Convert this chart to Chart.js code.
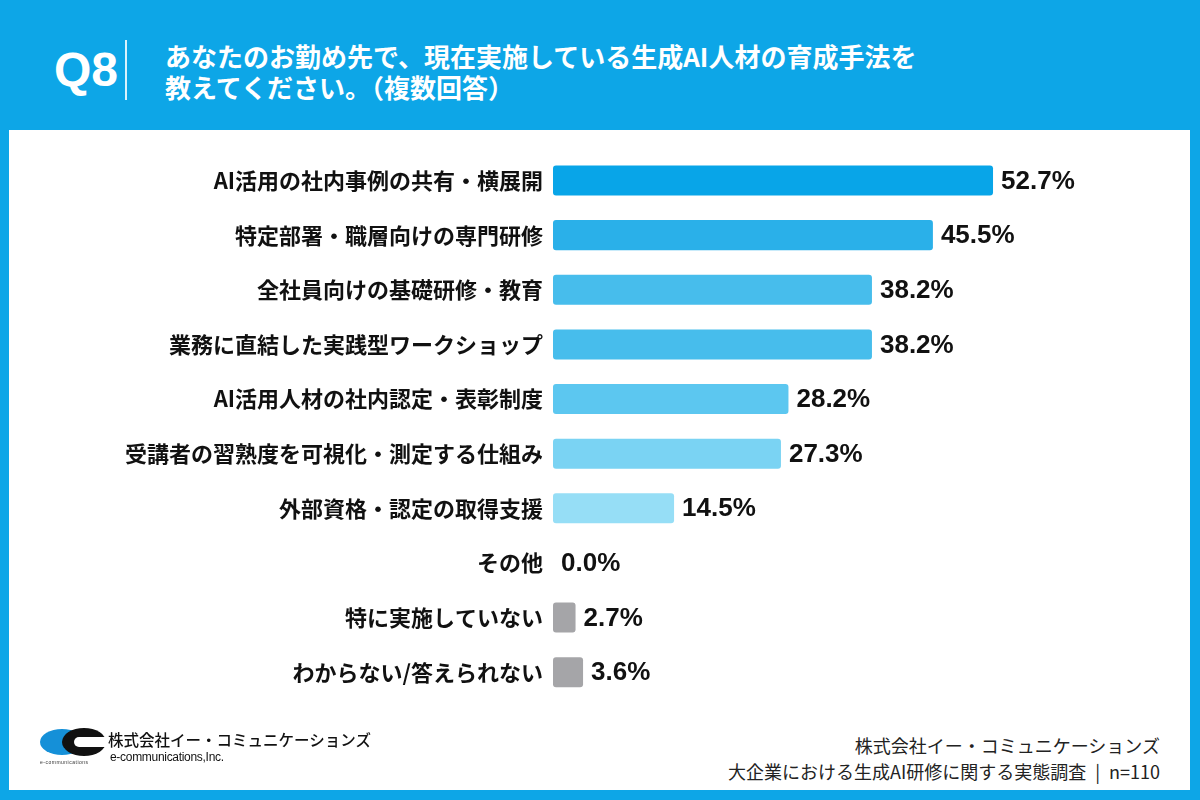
<!DOCTYPE html>
<html lang="ja">
<head>
<meta charset="utf-8">
<script src="https://cdn.jsdelivr.net/npm/chart.js@4"></script>
<style>
  html, body { margin: 0; padding: 0; }
  body {
    width: 1200px; height: 800px; position: relative; overflow: hidden;
    background: #0da6e7;
    font-family: "Noto Sans CJK JP", "Noto Sans", sans-serif;
  }
  .panel {
    position: absolute; left: 9px; top: 130px; width: 1181px; height: 660px;
    background: #ffffff;
  }
  .q {
    position: absolute; left: 54px; top: 42px;
    font-family: "Liberation Sans", Arial, sans-serif; font-weight: 700;
    font-size: 48px; color: #fff; letter-spacing: 0px;
  }
  .sep {
    position: absolute; left: 125px; top: 40px; width: 2px; height: 60px;
    background: rgba(255,255,255,0.85);
  }
  .title {
    position: absolute; left: 165px; top: 40px;
    font-weight: 700; font-size: 26px; line-height: 31px; color: #fff;
  }
  #chart { position: absolute; left: 0; top: 130px; }
  .src {
    position: absolute; right: 40px; top: 732px; text-align: right;
    font-size: 18px; line-height: 26px; color: #222;
  }
  .logo { position: absolute; left: 40px; top: 726px; width: 340px; height: 46px; }
  .logo .blue {
    position: absolute; left: 0; top: 3px; width: 44px; height: 26px;
    border-radius: 50%; background: #1590d8;
  }
  .logo .ring {
    position: absolute; left: 22px; top: 2px; width: 44px; height: 28px;
    border-radius: 50%; background: #111;
  }
  .logo .hole {
    position: absolute; left: 34px; top: 11px; width: 40px; height: 10px;
    background: #fff; border-radius: 5px 0 0 5px;
  }
  .logo .tiny {
    position: absolute; left: 0; top: 33px; font-size: 5px; color: #333;
    font-family: "Liberation Sans", Arial, sans-serif; letter-spacing: 0.5px;
  }
  .logo .jp {
    position: absolute; left: 68px; top: 2px; font-size: 15.5px; color: #111;
    font-weight: 500; white-space: nowrap;
  }
  .logo .en {
    position: absolute; left: 70px; top: 24px; font-size: 12px; color: #111;
    font-family: "Liberation Sans", Arial, sans-serif; letter-spacing: -0.3px;
  }
</style>
</head>
<body>
<div class="panel"></div>
<div class="q">Q8</div>
<div class="sep"></div>
<div class="title">あなたのお勤め先で、現在実施している生成AI人材の育成手法を<br>教えてください。（複数回答）</div>

<canvas id="chart" width="1200" height="600"></canvas>

<div class="logo">
  <div class="blue"></div>
  <div class="ring"></div>
  <div class="hole"></div>
  <div class="tiny">e-communications</div>
  <div class="jp">株式会社イー・コミュニケーションズ</div>
  <div class="en">e-communications,Inc.</div>
</div>
<div class="src">株式会社イー・コミュニケーションズ<br>大企業における生成AI研修に関する実態調査&ensp;|&ensp;n=110</div>

<script>
// Q8 answers (percent of respondents, multiple answers)
const categories = [
  'AI活用の社内事例の共有・横展開',
  '特定部署・職層向けの専門研修',
  '全社員向けの基礎研修・教育',
  '業務に直結した実践型ワークショップ',
  'AI活用人材の社内認定・表彰制度',
  '受講者の習熟度を可視化・測定する仕組み',
  '外部資格・認定の取得支援',
  'その他',
  '特に実施していない',
  'わからない/答えられない'
];

const values = [52.7, 45.5, 38.2, 38.2, 28.2, 27.3, 14.5, 0.0, 2.7, 3.6];

const barColors = [
  '#08a5e8', '#2ab0e9', '#47bdec', '#47bdec', '#5cc7f0',
  '#7ad3f3', '#96def6', '#96def6', '#a5a5a8', '#a5a5a8'
];

// draws "52.7%" etc. right after each bar
const valueLabels = {
  id: 'valueLabels',
  afterDatasetsDraw(chart) {
    const ctx = chart.ctx;
    const meta = chart.getDatasetMeta(0);
    ctx.save();
    ctx.font = 'bold 26px "Liberation Sans", Arial, sans-serif';
    ctx.fillStyle = '#111';
    ctx.textAlign = 'left';
    ctx.textBaseline = 'middle';
    meta.data.forEach((bar, i) => {
      ctx.fillText(values[i].toFixed(1) + '%', bar.x + 8, bar.y + 1);
    });
    ctx.restore();
  }
};

new Chart(document.getElementById('chart'), {
  type: 'bar',
  data: {
    labels: categories,
    datasets: [{
      data: values,
      backgroundColor: barColors,
      borderRadius: 3,
      borderSkipped: false,
      barPercentage: 0.55,
      categoryPercentage: 1
    }]
  },
  options: {
    indexAxis: 'y',
    responsive: false,
    animation: false,
    layout: { padding: { top: 19.5, bottom: 30.5, left: 0, right: 50 } },
    plugins: {
      legend: { display: false },
      tooltip: { enabled: false }
    },
    scales: {
      x: { display: false, min: 0, max: 71.5 },
      y: {
        grid: { display: false, drawTicks: false },
        border: { display: false },
        afterFit(scale) { scale.width = 553; },
        ticks: {
          padding: 10,
          color: '#111',
          font: { family: '"Noto Sans CJK JP", sans-serif', size: 22, weight: 'bold' }
        }
      }
    }
  },
  plugins: [valueLabels]
});
</script>
</body>
</html>
